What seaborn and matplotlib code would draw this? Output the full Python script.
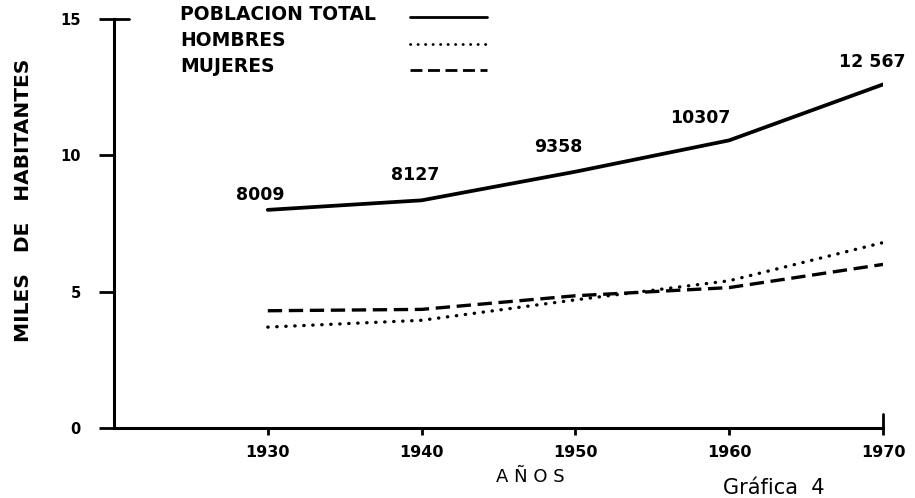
import matplotlib
matplotlib.use("Agg")
import matplotlib.pyplot as plt
import seaborn as sns
import pandas as pd
from matplotlib.lines import Line2D

# ---- data (miles de habitantes) ----
years = [1930, 1940, 1950, 1960, 1970]
total = [8.0, 8.35, 9.4, 10.55, 12.6]
hombres = [3.7, 3.95, 4.7, 5.4, 6.8]
mujeres = [4.3, 4.35, 4.85, 5.15, 6.0]
total_labels = ["8009", "8127", "9358", "10307", "12 567"]
y_ticks = [0, 5, 10, 15]
x_ticks = [1930, 1940, 1950, 1960, 1970]

df = pd.DataFrame({"year": years, "total": total, "hombres": hombres, "mujeres": mujeres})

sns.set_style("white")
plt.rcParams["font.family"] = ["DejaVu Sans"]
plt.rcParams["text.color"] = "black"
plt.rcParams["axes.labelcolor"] = "black"
plt.rcParams["xtick.color"] = "black"
plt.rcParams["ytick.color"] = "black"

W, H = 915, 498
fig = plt.figure(figsize=(W / 100, H / 100), dpi=100)
ax = fig.add_axes([114 / W, (H - 428) / H, (883 - 114) / W, (428 - 19) / H])

sns.lineplot(data=df, x="year", y="total", ax=ax, color="black", lw=2.7)
sns.lineplot(data=df, x="year", y="hombres", ax=ax, color="black", lw=2.4,
             linestyle=(0, (0.1, 2.6)), dash_capstyle="round")
sns.lineplot(data=df, x="year", y="mujeres", ax=ax, color="black", lw=2.4,
             linestyle=(0, (4.3, 2.0)), dash_capstyle="butt")

ax.set_xlim(1920, 1970)
ax.set_ylim(0, 15)
ax.set_xlabel("")
ax.set_ylabel("")

for s in ["top", "right"]:
    ax.spines[s].set_visible(False)
for s in ["left", "bottom"]:
    ax.spines[s].set_linewidth(2.2)
    ax.spines[s].set_color("black")

ax.set_yticks(y_ticks)
ax.set_yticklabels([str(t) for t in y_ticks], fontsize=10.5, fontweight="bold")
ax.set_xticks(x_ticks)
ax.set_xticklabels([str(t) for t in x_ticks], fontsize=11.5, fontweight="bold")
ax.tick_params(axis="y", left=True, direction="out", length=11, width=2, pad=13, colors="black")
ax.tick_params(axis="x", bottom=True, direction="out", length=5, width=2, pad=7, colors="black")

# extra tick parts (top bar at 15 and end bar at 1970)
ax.plot([0, 0.02], [1, 1], transform=ax.transAxes, color="black", lw=2, clip_on=False)
ax.plot([1, 1], [0, 0.035], transform=ax.transAxes, color="black", lw=2, clip_on=False)

# value labels for the total population
label_pos = [(1929.5, 8.54), (1939.6, 9.27), (1948.9, 10.30), (1958.1, 11.37), (1969.3, 13.42)]
for (lx, ly), txt in zip(label_pos, total_labels):
    ax.text(lx, ly, txt, ha="center", va="center", fontsize=12.5, fontweight="bold")

# legend (custom, as in the original)
def fy(py):
    return 1 - py / H

legend_items = [("POBLACION TOTAL", 14, "-"), ("HOMBRES", 41, (0, (0.1, 2.6))), ("MUJERES", 67, (0, (4.3, 2.0)))]
for txt, py, ls in legend_items:
    fig.text(180 / W, fy(py), txt, ha="left", va="center", fontsize=13.5, fontweight="bold")
    ln = Line2D([410 / W, 487 / W], [fy(py + 3), fy(py + 3)], transform=fig.transFigure,
                color="black", lw=2.0, linestyle=ls,
                dash_capstyle="round" if ls == (0, (0.1, 2.6)) else "butt")
    fig.add_artist(ln)

fig.text(24 / W, fy(200), "MILES   DE   HABITANTES", rotation=90, ha="center", va="center",
         fontsize=14.5, fontweight="bold")
fig.text(530 / W, fy(477), "A Ñ O S", ha="center", va="center", fontsize=13)
fig.text(774 / W, fy(488), "Gráfica  4", ha="center", va="center", fontsize=15)

fig.savefig("out.png", dpi=100, facecolor="white")
